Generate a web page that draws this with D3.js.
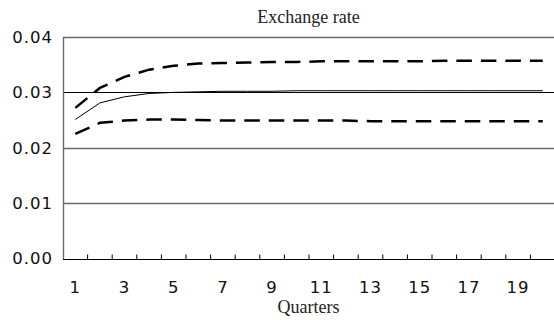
<!DOCTYPE html>
<html>
<head>
<meta charset="utf-8">
<script src="https://cdn.jsdelivr.net/npm/d3@7"></script>
<style>
  body { margin: 0; background: #fff; }
  svg { display: block; }
</style>
</head>
<body>
<div id="chart"></div>
<script>
// quarters 1..20
const quarters = d3.range(1, 21);
const tickLabels = [1, 3, 5, 7, 9, 11, 13, 15, 17, 19];
const yTicks = [0, 0.01, 0.02, 0.03, 0.04];
// impulse response and confidence bands
const response = [0.0251, 0.0281, 0.0292, 0.0298, 0.0300, 0.0301, 0.0302, 0.0302, 0.0302, 0.0303,
                  0.0303, 0.0303, 0.0303, 0.0303, 0.0303, 0.0303, 0.0303, 0.0303, 0.0303, 0.0303];
const upper = [0.0272, 0.0308, 0.0328, 0.0341, 0.0348, 0.0352, 0.0353, 0.0354, 0.0355, 0.0355,
               0.0356, 0.0356, 0.0356, 0.0356, 0.0356, 0.0357, 0.0357, 0.0357, 0.0357, 0.0357];
const lower = [0.0225, 0.0245, 0.0249, 0.0251, 0.0251, 0.0250, 0.0249, 0.0249, 0.0249, 0.0249,
               0.0249, 0.0249, 0.0248, 0.0248, 0.0248, 0.0248, 0.0248, 0.0248, 0.0248, 0.0248];

const width = 554, height = 320;
const margin = {top: 37, right: 0, bottom: 62, left: 63};

const svg = d3.select('#chart').append('svg')
    .attr('width', width)
    .attr('height', height);

const xScale = d3.scaleBand()
    .domain(quarters)
    .range([margin.left, margin.left + 492]);
const yScale = d3.scaleLinear()
    .domain([0, 0.04])
    .range([height - margin.bottom + 0.5, margin.top]);

// gridlines
svg.append('g')
    .selectAll('line')
    .data(yTicks.filter(d => d > 0))
    .join('line')
    .attr('x1', margin.left)
    .attr('x2', width)
    .attr('y1', d => Math.round(yScale(d)) + 0.5)
    .attr('y2', d => Math.round(yScale(d)) + 0.5)
    .attr('stroke', d => d === 0.03 ? '#000' : '#6a6a6a')
    .attr('stroke-width', d => d === 0.03 ? 1 : 1.4);

// y axis
const yAxisG = svg.append('g')
    .attr('transform', `translate(${margin.left}, 0)`)
    .call(d3.axisLeft(yScale).tickValues(yTicks).tickFormat(d3.format('.2f')).tickSize(0).tickPadding(10));
yAxisG.select('.domain').attr('stroke', '#6a6a6a').attr('stroke-width', 1.4);
yAxisG.selectAll('text')
    .attr('font-family', 'DejaVu Sans, sans-serif')
    .attr('font-size', 16.5)
    .attr('letter-spacing', 1)
    .attr('fill', '#111');

// x axis with ticks between quarters, pointing up
const xAxisG = svg.append('g')
    .attr('transform', `translate(0, ${Math.round(yScale(0)) + 0.5})`);
xAxisG.append('line')
    .attr('x1', margin.left)
    .attr('x2', width)
    .attr('stroke', '#000')
    .attr('stroke-width', 1.2);
xAxisG.selectAll('.qtick')
    .data(quarters.slice(1))
    .join('line')
    .attr('class', 'qtick')
    .attr('x1', d => xScale(d))
    .attr('x2', d => xScale(d))
    .attr('y1', 0)
    .attr('y2', -5)
    .attr('stroke', '#000');
xAxisG.selectAll('text')
    .data(tickLabels)
    .join('text')
    .attr('x', d => xScale(d) + xScale.bandwidth() / 2)
    .attr('y', 33)
    .attr('text-anchor', 'middle')
    .attr('font-family', 'DejaVu Sans, sans-serif')
    .attr('font-size', 16.5)
    .attr('letter-spacing', 1)
    .attr('fill', '#111')
    .text(d => d);

// lines
const line = d3.line()
    .x((d, i) => xScale(quarters[i]) + xScale.bandwidth() / 2)
    .y(d => yScale(d));

svg.append('path')
    .datum(upper)
    .attr('d', line)
    .attr('fill', 'none')
    .attr('stroke', '#000')
    .attr('stroke-width', 2.5)
    .attr('stroke-dasharray', '15.5,9');
svg.append('path')
    .datum(lower)
    .attr('d', line)
    .attr('fill', 'none')
    .attr('stroke', '#000')
    .attr('stroke-width', 2.5)
    .attr('stroke-dasharray', '15.5,9');
svg.append('path')
    .datum(response)
    .attr('d', line)
    .attr('fill', 'none')
    .attr('stroke', '#000')
    .attr('stroke-width', 1);

// titles
svg.append('text')
    .attr('x', (margin.left + width) / 2)
    .attr('y', 23)
    .attr('text-anchor', 'middle')
    .attr('font-family', 'Liberation Serif, serif')
    .attr('font-size', 18)
    .attr('fill', '#222')
    .text('Exchange rate');
svg.append('text')
    .attr('x', (margin.left + width) / 2)
    .attr('y', 313)
    .attr('text-anchor', 'middle')
    .attr('font-family', 'Liberation Serif, serif')
    .attr('font-size', 18)
    .attr('fill', '#222')
    .text('Quarters');
</script>
</body>
</html>
